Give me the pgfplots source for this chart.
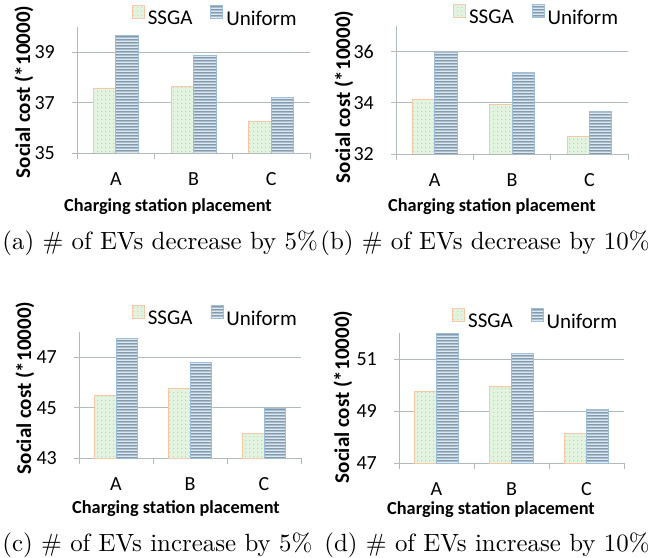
\documentclass[border=0pt]{standalone}
\usepackage{pgfplots}
\pgfplotsset{compat=1.18}
\usetikzlibrary{patterns}
\usepackage{fontspec}
\newfontfamily\carlito{Carlito}
\definecolor{ssgaFill}{HTML}{E2F3E0}
\definecolor{ssgaDot}{HTML}{9DBF98}
\definecolor{ssgaEdge}{HTML}{F6C8A6}
\definecolor{uniFill}{HTML}{DCE8F1}
\definecolor{uniLine}{HTML}{55738A}
\definecolor{uniEdge}{HTML}{9DBDD8}
\definecolor{gridc}{HTML}{B0BABA}

% wide horizontal-line tile (few seams) and sparse dot tile
\pgfdeclarepatternformonly{hstripes}{\pgfqpoint{0pt}{0pt}}{\pgfqpoint{80pt}{3pt}}{\pgfqpoint{80pt}{3pt}}{%
  \pgfpathrectangle{\pgfqpoint{0pt}{0.9pt}}{\pgfqpoint{80pt}{1.25pt}}%
  \pgfusepath{fill}}
\pgfdeclarepatternformonly{sdots}{\pgfqpoint{0pt}{0pt}}{\pgfqpoint{4pt}{4pt}}{\pgfqpoint{4pt}{4pt}}{%
  \pgfpathcircle{\pgfqpoint{2pt}{2pt}}{0.5pt}%
  \pgfusepath{fill}}

\pgfplotsset{
  ssga/.style={draw=ssgaEdge, line width=0.8pt, fill=ssgaFill,
    postaction={pattern=sdots, pattern color=ssgaDot}},
  uni/.style={draw=uniEdge, line width=0.8pt, fill=uniFill,
    postaction={pattern=hstripes, pattern color=uniLine}},
  panel/.style={
    scale only axis,
    ybar=0pt, bar width=0.29,
    xmin=-0.5, xmax=2.5,
    xtick={0,1,2}, xticklabels={A,B,C},
    minor xtick={-0.5,0.5,1.5,2.5},
    tick align=outside,
    major tick length=5pt, minor tick length=6pt,
    major x tick style={draw=none},
    minor x tick style={draw=gridc, line width=0.8pt},
    y tick style={draw=gridc, line width=0.8pt},
    axis x line*=bottom, axis y line*=left,
    axis line style={draw=gridc, line width=0.8pt, -},
    ymajorgrids, grid style={draw=gridc, line width=0.8pt},
    /pgf/number format/assume math mode=true,
    tick label style={font=\carlito\fontsize{20}{22}\selectfont, inner sep=0pt},
    yticklabel style={anchor=east, xshift=-17pt},
    xticklabel style={anchor=north, yshift=-14pt},
    legend columns=2,
    legend cell align=left,
    legend image code/.code={\draw[##1] (0pt,0.3pt) rectangle (12pt,12.8pt);},
    legend style={draw=none, fill=none, inner sep=0pt, outer sep=0pt,
      font=\carlito\fontsize{21}{23}\selectfont,
      nodes={inner sep=0pt},
      column sep=3pt,
      /tikz/every even column/.append style={column sep=18pt}},
  }
}

\begin{document}
\begin{tikzpicture}
\path[use as bounding box] (0pt,0pt) rectangle (650pt,557pt);

% (a)
\begin{axis}[panel, at={(77pt,404pt)}, anchor=south west, width=233pt, height=126pt,
  ymin=35, ymax=40, ytick={35,37,39},
  legend style={at={(axis description cs:0.236,1.087)}, anchor=west}]
\addplot[ssga] coordinates {(0,37.58) (1,37.63) (2,36.27)};
\addplot[uni] coordinates {(0,39.67) (1,38.86) (2,37.21)};
\legend{SSGA,Uniform}
\end{axis}

% (b)
\begin{axis}[panel, at={(396pt,403pt)}, anchor=south west, width=232pt, height=128pt,
  ymin=32, ymax=37, ytick={32,34,36},
  legend style={at={(axis description cs:0.247,1.086)}, anchor=west}]
\addplot[ssga] coordinates {(0,34.14) (1,33.94) (2,32.68)};
\addplot[uni] coordinates {(0,35.97) (1,35.18) (2,33.65)};
\legend{SSGA,Uniform}
\end{axis}

% (c)
\begin{axis}[panel, at={(79pt,98.7pt)}, anchor=south west, width=222pt, height=126.5pt,
  ymin=43, ymax=48, ytick={43,45,47},
  legend style={at={(axis description cs:0.239,1.125)}, anchor=west}]
\addplot[ssga] coordinates {(0,45.50) (1,45.77) (2,44.00)};
\addplot[uni] coordinates {(0,47.74) (1,46.78) (2,44.96)};
\legend{SSGA,Uniform}
\end{axis}

% (d)
\begin{axis}[panel, at={(399pt,94pt)}, anchor=south west, width=225pt, height=130pt,
  ymin=47, ymax=52, ytick={47,49,51},
  legend style={at={(axis description cs:0.237,1.108)}, anchor=west}]
\addplot[ssga] coordinates {(0,49.74) (1,49.96) (2,48.14)};
\addplot[uni] coordinates {(0,51.99) (1,51.22) (2,49.07)};
\legend{SSGA,Uniform}
\end{axis}

% axis titles
\tikzset{xl/.style={anchor=base, inner sep=0pt, font=\carlito\bfseries\fontsize{18.3}{20}\selectfont},
         yl/.style={rotate=90, anchor=center, inner sep=0pt, font=\carlito\bfseries\fontsize{21}{23}\selectfont}}
\node[xl] at (168pt,345pt) {Charging station placement};
\node[xl] at (492pt,345pt) {Charging station placement};
\node[xl] at (176pt,44pt) {Charging station placement};
\node[xl] at (491pt,43pt) {Charging station placement};
\node[yl] at (24pt,465pt) {Social cost (*10000)};
\node[yl] at (344pt,460pt) {Social cost (*10000)};
\node[yl] at (25pt,169pt) {Social cost (*10000)};
\node[yl] at (343pt,160pt) {Social cost (*10000)};

% captions
\node[anchor=base west, inner sep=0pt, scale=2.49] at (2pt,307pt) {\fontsize{10}{12}\selectfont (a) \# of EVs decrease by 5\%};
\node[anchor=base east, inner sep=0pt, scale=2.49] at (650pt,307pt) {\fontsize{10}{12}\selectfont (b) \# of EVs decrease by 10\%};
\node[anchor=base west, inner sep=0pt, scale=2.49] at (2pt,6pt) {\fontsize{10}{12}\selectfont (c) \# of EVs increase by 5\%};
\node[anchor=base east, inner sep=0pt, scale=2.49] at (650pt,6pt) {\fontsize{10}{12}\selectfont (d) \# of EVs increase by 10\%};
\end{tikzpicture}
\end{document}
